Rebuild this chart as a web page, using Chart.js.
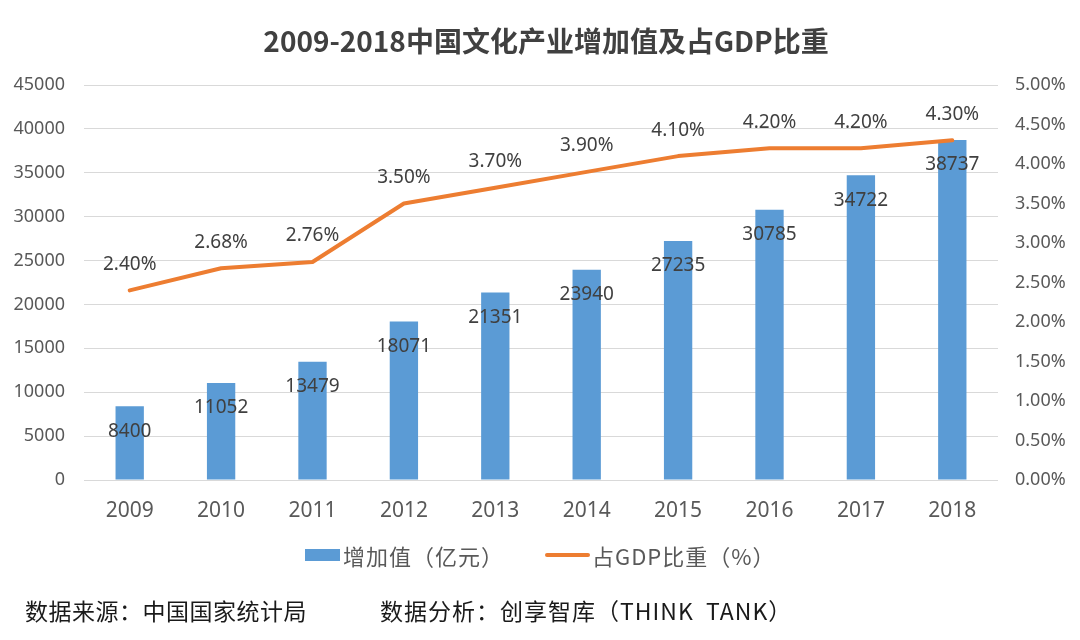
<!DOCTYPE html>
<html>
<head>
<meta charset="utf-8">
<script src="https://cdn.jsdelivr.net/npm/chart.js@4.4.1/dist/chart.umd.min.js"></script>
<style>
  html, body { margin: 0; padding: 0; background: #ffffff; }
  body { width: 1080px; height: 640px; position: relative; overflow: hidden;
         font-family: "Noto Sans", "Noto Sans CJK SC", sans-serif; }
  #c { position: absolute; left: 0; top: 0; }
  #title { position: absolute; left: 6px; width: 1080px; top: 20px; text-align: center;
           font: bold 28px "Noto Sans CJK SC", "Noto Sans", sans-serif; color: #404040; }
  .leg { position: absolute; top: 540px; font: 22px "Noto Sans CJK SC", sans-serif; color: #595959;
         height: 30px; line-height: 30px; white-space: pre; letter-spacing: 1px; }
  .sw { position: absolute; }
  #footer1, #footer2 { position: absolute; top: 594px; font: 23px "Noto Sans CJK SC", sans-serif;
           color: #1a1a1a; white-space: pre; line-height: 32px; }
</style>
</head>
<body>
<canvas id="c" width="1080" height="640"></canvas>
<div id="title"></div>
<div class="sw" style="left:305px; top:549px; width:35px; height:12px; background:#5B9BD5;"></div>
<div class="leg" id="leg1" style="left:343px;"></div>
<div class="sw" style="left:545px; top:553px; width:45px; height:4px; background:#ED7D31; border-radius:2px;"></div>
<div class="leg" id="leg2" style="left:592px;"></div>
<div id="footer1" style="left:25px; letter-spacing:0.5px;"></div>
<div id="footer2" style="left:380px; letter-spacing:1px;"></div>
<script>
const titleText = "2009-2018中国文化产业增加值及占GDP比重";
const years = ["2009","2010","2011","2012","2013","2014","2015","2016","2017","2018"];
const addedValue = [8400, 11052, 13479, 18071, 21351, 23940, 27235, 30785, 34722, 38737];
const gdpShare = [2.40, 2.68, 2.76, 3.50, 3.70, 3.90, 4.10, 4.20, 4.20, 4.30];
const barLabel = "增加值（亿元）";
const lineLabel = "占GDP比重（%）";
const sourceText = "数据来源：中国国家统计局";
const analysisText = "数据分析：创享智库（THINK  TANK）";

document.getElementById('title').textContent = titleText;
document.getElementById('leg1').textContent = barLabel;
document.getElementById('leg2').textContent = lineLabel;
document.getElementById('footer1').textContent = sourceText;
document.getElementById('footer2').textContent = analysisText;

const valueLabels = {
  id: 'valueLabels',
  afterDatasetsDraw(chart) {
    const ctx = chart.ctx;
    ctx.save();
    ctx.font = '19px "Noto Sans", "Noto Sans CJK SC", sans-serif';
    ctx.fillStyle = '#404040';
    ctx.textAlign = 'center';
    ctx.textBaseline = 'middle';
    chart.data.datasets.forEach((ds, i) => {
      const meta = chart.getDatasetMeta(i);
      meta.data.forEach((el, j) => {
        if (ds.type === 'bar') {
          ctx.fillText(String(ds.data[j]), el.x, el.y + 25);
        } else {
          ctx.fillText(ds.data[j].toFixed(2) + '%', el.x, el.y - 26);
        }
      });
    });
    ctx.restore();
  }
};

new Chart(document.getElementById('c'), {
  data: {
    labels: years,
    datasets: [
      {
        type: 'line', label: lineLabel, data: gdpShare, yAxisID: 'y1',
        borderColor: '#ED7D31', backgroundColor: '#ED7D31', borderWidth: 4,
        pointRadius: 0, tension: 0, borderCapStyle: 'round', borderJoinStyle: 'round', order: 0
      },
      {
        type: 'bar', label: barLabel, data: addedValue, yAxisID: 'y',
        backgroundColor: '#5B9BD5', barPercentage: 0.31, categoryPercentage: 1.0, order: 1
      }
    ]
  },
  options: {
    responsive: false,
    animation: false,
    layout: { padding: { top: 85, bottom: 115, left: 0, right: 0 } },
    plugins: { legend: { display: false }, title: { display: false }, tooltip: { enabled: false } },
    scales: {
      x: {
        grid: { display: false, drawTicks: false },
        border: { display: false },
        ticks: { color: '#595959', padding: 18, font: { size: 21, family: '"Noto Sans", sans-serif' } },
        afterFit(s) { s.height = 45; }
      },
      y: {
        position: 'left', min: 0, max: 45000,
        grid: { color: '#d9d9d9', lineWidth: 1, drawTicks: false },
        border: { display: false },
        ticks: { stepSize: 5000, color: '#595959', padding: 19, font: { size: 18, family: '"Noto Sans", sans-serif' },
                 callback: v => String(v) },
        afterFit(s) { s.width = 84; }
      },
      y1: {
        position: 'right', min: 0, max: 5,
        grid: { drawOnChartArea: false, drawTicks: false },
        border: { display: false },
        ticks: { stepSize: 0.5, color: '#595959', padding: 17, font: { size: 18, family: '"Noto Sans", sans-serif' },
                 callback: v => Number(v).toFixed(2) + '%' },
        afterFit(s) { s.width = 82; }
      }
    }
  },
  plugins: [valueLabels]
});
</script>
</body>
</html>
